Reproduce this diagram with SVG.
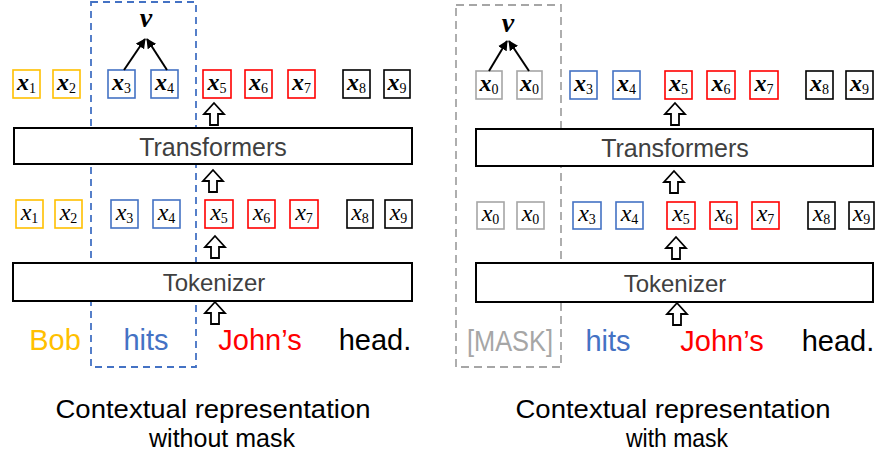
<svg xmlns="http://www.w3.org/2000/svg" width="876" height="463" viewBox="0 0 876 463">
<style>
.tok{fill:#fff;stroke-width:1.6}
.o{stroke:#FFC000}.b{stroke:#4472C4}.r{stroke:#FF0000}.k{stroke:#000}.g{stroke:#A6A6A6}
.xt{font-family:"Liberation Serif","DejaVu Serif",serif;font-style:italic;font-size:24px;fill:#000;text-anchor:middle}
.xb{font-weight:bold}
.sub{font-style:normal;font-weight:normal;font-size:14px;font-family:"Liberation Serif","DejaVu Serif",serif}
.box{fill:#fff;stroke:#000;stroke-width:2}
.lbl{font-family:"Liberation Sans",Arial,sans-serif;font-size:25px;fill:#404040;text-anchor:middle}
.word{font-family:"Liberation Sans",Arial,sans-serif;font-size:29px;text-anchor:middle}
.cap{font-family:"Liberation Sans",Arial,sans-serif;font-size:26px;fill:#000;text-anchor:middle}
.blk{fill:#fff;stroke:#000;stroke-width:1.8;stroke-linejoin:miter}
.vl{stroke:#000;stroke-width:2;fill:none;marker-end:url(#ah)}
.v{font-family:"Liberation Serif","DejaVu Serif",serif;font-style:italic;font-weight:bold;font-size:28px;text-anchor:middle;fill:#000}
</style>
<defs>
<marker id="ah" viewBox="0 0 10 10" refX="9" refY="5" markerWidth="5" markerHeight="5" orient="auto" markerUnits="strokeWidth">
<path d="M0,0 L10,5 L0,10 Z" fill="#000"/>
</marker>
<path id="up" d="M0,0 L10,11 L4,11 L4,22 L-4,22 L-4,11 L-10,11 Z"/>
</defs>
<rect width="876" height="463" fill="#fff"/>

<!-- dashed groups -->
<g id="focus-left"><rect x="91" y="2" width="105" height="365" fill="none" stroke="#4472C4" stroke-width="1.8" stroke-dasharray="7,5"/></g>
<g id="mask-right"><rect x="456" y="5" width="105" height="362" fill="none" stroke="#A6A6A6" stroke-width="1.8" stroke-dasharray="8,5"/></g>

<!-- Left panel -->
<g id="L-transformers"><rect class="box" x="14" y="128" width="398" height="36"/><text class="lbl" x="213" y="156">Transformers</text></g>
<g id="L-tokenizer"><rect class="box" x="13" y="263" width="399" height="38"/><text class="lbl" x="214" y="291" style="font-size:24px">Tokenizer</text></g>

<g id="L-top-x1"><rect class="tok o" x="13" y="70" width="27" height="28"/><text class="xt xb" x="26.5" y="90">x<tspan class="sub" dy="3">1</tspan></text></g>
<g id="L-top-x2"><rect class="tok o" x="53" y="70" width="27" height="28"/><text class="xt xb" x="66.5" y="90">x<tspan class="sub" dy="3">2</tspan></text></g>
<g id="L-top-x3"><rect class="tok b" x="108" y="70" width="27" height="28"/><text class="xt xb" x="121.5" y="90">x<tspan class="sub" dy="3">3</tspan></text></g>
<g id="L-top-x4"><rect class="tok b" x="151" y="70" width="27" height="28"/><text class="xt xb" x="164.5" y="90">x<tspan class="sub" dy="3">4</tspan></text></g>
<g id="L-top-x5"><rect class="tok r" x="203" y="70" width="28" height="28"/><text class="xt xb" x="217" y="90">x<tspan class="sub" dy="3">5</tspan></text></g>
<g id="L-top-x6"><rect class="tok r" x="245" y="70" width="27" height="28"/><text class="xt xb" x="258.5" y="90">x<tspan class="sub" dy="3">6</tspan></text></g>
<g id="L-top-x7"><rect class="tok r" x="288" y="70" width="27" height="28"/><text class="xt xb" x="301.5" y="90">x<tspan class="sub" dy="3">7</tspan></text></g>
<g id="L-top-x8"><rect class="tok k" x="343" y="70" width="27" height="28"/><text class="xt xb" x="356.5" y="90">x<tspan class="sub" dy="3">8</tspan></text></g>
<g id="L-top-x9"><rect class="tok k" x="384" y="70" width="26" height="28"/><text class="xt xb" x="397" y="90">x<tspan class="sub" dy="3">9</tspan></text></g>

<g id="L-bot-x1"><rect class="tok o" x="16" y="200" width="27" height="28"/><text class="xt" x="29.5" y="220">x<tspan class="sub" dy="3">1</tspan></text></g>
<g id="L-bot-x2"><rect class="tok o" x="55" y="200" width="27" height="28"/><text class="xt" x="68.5" y="220">x<tspan class="sub" dy="3">2</tspan></text></g>
<g id="L-bot-x3"><rect class="tok b" x="111" y="200" width="27" height="28"/><text class="xt" x="124.5" y="220">x<tspan class="sub" dy="3">3</tspan></text></g>
<g id="L-bot-x4"><rect class="tok b" x="153" y="200" width="27" height="28"/><text class="xt" x="166.5" y="220">x<tspan class="sub" dy="3">4</tspan></text></g>
<g id="L-bot-x5"><rect class="tok r" x="205" y="200" width="28" height="28"/><text class="xt" x="219" y="220">x<tspan class="sub" dy="3">5</tspan></text></g>
<g id="L-bot-x6"><rect class="tok r" x="248" y="200" width="27" height="28"/><text class="xt" x="261.5" y="220">x<tspan class="sub" dy="3">6</tspan></text></g>
<g id="L-bot-x7"><rect class="tok r" x="290" y="200" width="28" height="28"/><text class="xt" x="304" y="220">x<tspan class="sub" dy="3">7</tspan></text></g>
<g id="L-bot-x8"><rect class="tok k" x="347" y="200" width="26" height="28"/><text class="xt" x="360" y="220">x<tspan class="sub" dy="3">8</tspan></text></g>
<g id="L-bot-x9"><rect class="tok k" x="385" y="200" width="27" height="28"/><text class="xt" x="398.5" y="220">x<tspan class="sub" dy="3">9</tspan></text></g>

<g id="L-v"><text class="v" x="146" y="27">v</text></g>

<g id="L-words">
<text class="word" x="55" y="350" fill="#FFC000">Bob</text>
<text class="word" x="146" y="350" fill="#4472C4">hits</text>
<text class="word" x="260" y="350" fill="#FF0000">John’s</text>
<text class="word" x="375" y="350" fill="#000">head.</text>
</g>
<g id="L-caption">
<text class="cap" x="213" y="418" textLength="315" lengthAdjust="spacingAndGlyphs">Contextual representation</text>
<text class="cap" x="222" y="447" style="font-size:25px">without mask</text>
</g>

<!-- Right panel -->
<g id="R-transformers"><rect class="box" x="476" y="129" width="397" height="37"/><text class="lbl" x="675" y="157">Transformers</text></g>
<g id="R-tokenizer"><rect class="box" x="476" y="263" width="397" height="39"/><text class="lbl" x="675" y="292" style="font-size:24px">Tokenizer</text></g>

<g id="R-top-x0a"><rect class="tok g" x="476" y="71" width="26" height="28"/><text class="xt xb" x="489" y="91">x<tspan class="sub" dy="3">0</tspan></text></g>
<g id="R-top-x0b"><rect class="tok g" x="517" y="71" width="25" height="28"/><text class="xt xb" x="529.5" y="91">x<tspan class="sub" dy="3">0</tspan></text></g>
<g id="R-top-x3"><rect class="tok b" x="570" y="71" width="27" height="28"/><text class="xt xb" x="583.5" y="91">x<tspan class="sub" dy="3">3</tspan></text></g>
<g id="R-top-x4"><rect class="tok b" x="613" y="71" width="27" height="28"/><text class="xt xb" x="626.5" y="91">x<tspan class="sub" dy="3">4</tspan></text></g>
<g id="R-top-x5"><rect class="tok r" x="665" y="71" width="27" height="28"/><text class="xt xb" x="678.5" y="91">x<tspan class="sub" dy="3">5</tspan></text></g>
<g id="R-top-x6"><rect class="tok r" x="707" y="71" width="28" height="28"/><text class="xt xb" x="721" y="91">x<tspan class="sub" dy="3">6</tspan></text></g>
<g id="R-top-x7"><rect class="tok r" x="750" y="71" width="28" height="28"/><text class="xt xb" x="764" y="91">x<tspan class="sub" dy="3">7</tspan></text></g>
<g id="R-top-x8"><rect class="tok k" x="806" y="71" width="27" height="28"/><text class="xt xb" x="819.5" y="91">x<tspan class="sub" dy="3">8</tspan></text></g>
<g id="R-top-x9"><rect class="tok k" x="846" y="71" width="27" height="28"/><text class="xt xb" x="859.5" y="91">x<tspan class="sub" dy="3">9</tspan></text></g>

<g id="R-bot-x0a"><rect class="tok g" x="477" y="202" width="27" height="27"/><text class="xt" x="490.5" y="221">x<tspan class="sub" dy="3">0</tspan></text></g>
<g id="R-bot-x0b"><rect class="tok g" x="517" y="202" width="27" height="27"/><text class="xt" x="530.5" y="221">x<tspan class="sub" dy="3">0</tspan></text></g>
<g id="R-bot-x3"><rect class="tok b" x="573" y="202" width="28" height="27"/><text class="xt" x="587" y="221">x<tspan class="sub" dy="3">3</tspan></text></g>
<g id="R-bot-x4"><rect class="tok b" x="616" y="202" width="27" height="27"/><text class="xt" x="629.5" y="221">x<tspan class="sub" dy="3">4</tspan></text></g>
<g id="R-bot-x5"><rect class="tok r" x="667" y="202" width="28" height="27"/><text class="xt" x="681" y="221">x<tspan class="sub" dy="3">5</tspan></text></g>
<g id="R-bot-x6"><rect class="tok r" x="710" y="202" width="27" height="27"/><text class="xt" x="723.5" y="221">x<tspan class="sub" dy="3">6</tspan></text></g>
<g id="R-bot-x7"><rect class="tok r" x="752" y="202" width="27" height="27"/><text class="xt" x="765.5" y="221">x<tspan class="sub" dy="3">7</tspan></text></g>
<g id="R-bot-x8"><rect class="tok k" x="808" y="202" width="27" height="27"/><text class="xt" x="821.5" y="221">x<tspan class="sub" dy="3">8</tspan></text></g>
<g id="R-bot-x9"><rect class="tok k" x="849" y="202" width="25" height="27"/><text class="xt" x="861.5" y="221">x<tspan class="sub" dy="3">9</tspan></text></g>

<g id="R-v"><text class="v" x="508" y="32">v</text></g>

<g id="R-words">
<text class="word" x="510" y="351" fill="#A6A6A6" textLength="86" lengthAdjust="spacingAndGlyphs">[MASK]</text>
<text class="word" x="608" y="351" fill="#4472C4">hits</text>
<text class="word" x="722" y="351" fill="#FF0000">John’s</text>
<text class="word" x="838" y="351" fill="#000">head.</text>
</g>
<g id="R-caption">
<text class="cap" x="673" y="418" textLength="315" lengthAdjust="spacingAndGlyphs">Contextual representation</text>
<text class="cap" x="677" y="447" style="font-size:25px" textLength="102" lengthAdjust="spacingAndGlyphs">with mask</text>
</g>

<!-- connectors -->
<g id="connectors">
<line class="vl" x1="124" y1="70" x2="145" y2="39"/>
<line class="vl" x1="167" y1="70" x2="147" y2="39"/>
<line class="vl" x1="489" y1="71" x2="507" y2="41"/>
<line class="vl" x1="529" y1="71" x2="509" y2="41"/>
<use href="#up" class="blk" x="214" y="103"/>
<use href="#up" class="blk" x="213" y="170"/>
<use href="#up" class="blk" x="215" y="236"/>
<use href="#up" class="blk" x="215" y="302"/>
<use href="#up" class="blk" x="675" y="103"/>
<use href="#up" class="blk" x="674" y="171"/>
<use href="#up" class="blk" x="676" y="237"/>
<use href="#up" class="blk" x="677" y="303"/>
</g>
</svg>
